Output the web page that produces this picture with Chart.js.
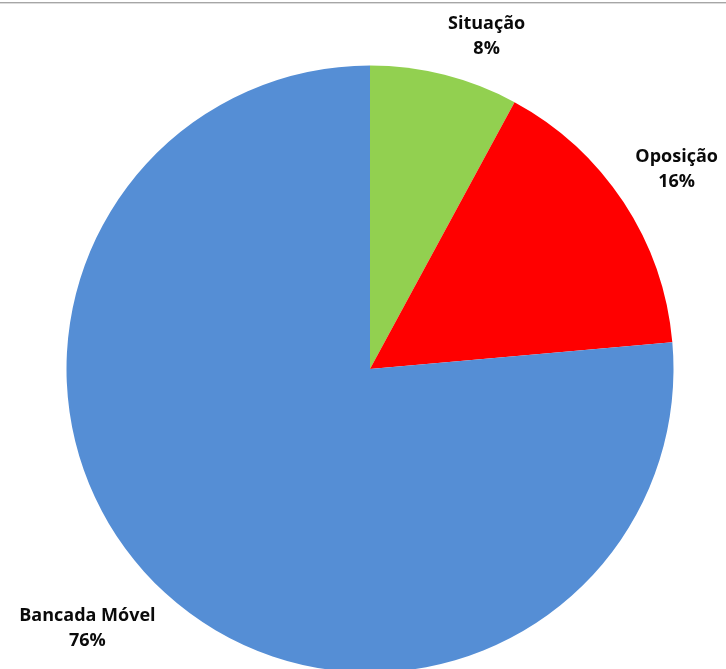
<!DOCTYPE html>
<html>
<head>
<meta charset="utf-8">
<script src="https://cdn.jsdelivr.net/npm/chart.js@4"></script>
<style>
  html,body{margin:0;padding:0;background:#fff;overflow:hidden;}
  #wrap{position:relative;width:726px;height:680px;}
  #topline{position:absolute;left:0;top:2px;width:726px;height:1px;background:#a6a6a6;}
  #topline2{position:absolute;left:0;top:3px;width:726px;height:1px;background:#dcdcdc;}
</style>
</head>
<body>
<div id="wrap">
  <canvas id="pie" width="726" height="680"></canvas>
  <div id="topline"></div><div id="topline2"></div>
</div>
<script>
// data
const labels = ['Situação', 'Oposição', 'Bancada Móvel'];
const values = [7.9, 15.7, 76.4];
const colors = ['#92D050', '#FF0000', '#558ED5'];

// outside-end labels, Excel style
const outLabels = {
  id:'outLabels',
  afterDatasetsDraw(chart){
    const ctx = chart.ctx;
    const meta = chart.getDatasetMeta(0);
    const total = values.reduce((a,b)=>a+b,0);
    ctx.save();
    ctx.font = 'bold 18px "Open Sans", Lato, sans-serif';
    ctx.fillStyle = '#0a0a0a';
    ctx.textBaseline = 'middle';
    ctx.textAlign = 'center';
    const lh = 25;
    meta.data.forEach((arc,i)=>{
      const mid = (arc.startAngle + arc.endAngle)/2;
      const r = arc.outerRadius + 14;
      const ax = arc.x + Math.cos(mid)*r;
      const ay = arc.y + Math.sin(mid)*r;
      const lines = [labels[i], Math.round(values[i]/total*100)+'%'];
      const w = Math.max(...lines.map(s=>ctx.measureText(s).width));
      const h = lines.length*lh;
      const left = Math.cos(mid) >= 0 ? ax : ax - w;
      const top = Math.sin(mid) <= 0 ? ay - h : ay;
      lines.forEach((s,j)=>ctx.fillText(s, left + w/2, top + lh/2 + j*lh));
    });
    ctx.restore();
  }
};

new Chart(document.getElementById('pie'),{
  type:'pie',
  data:{labels, datasets:[{data:values, backgroundColor:colors, borderWidth:0}]},
  options:{
    responsive:false,
    animation:false,
    layout:{padding:{left:66.5, right:52.5, top:65.5, bottom:7.5}},
    plugins:{legend:{display:false}, tooltip:{enabled:false}}
  },
  plugins:[outLabels]
});
</script>
</body>
</html>
